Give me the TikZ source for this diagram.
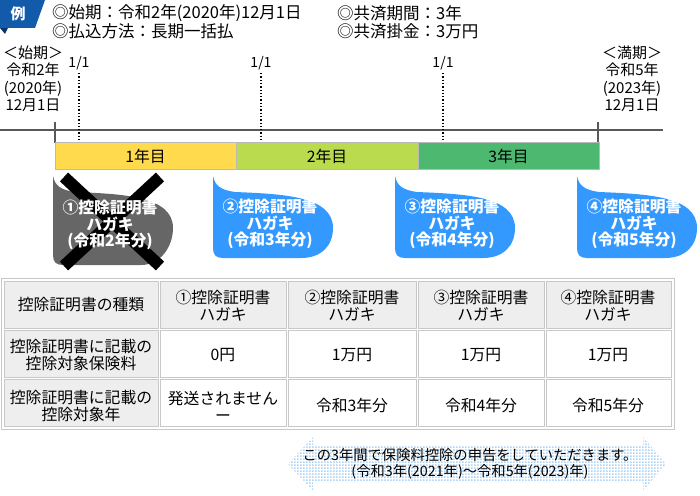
\documentclass[tikz,border=0pt]{standalone}
\usepackage{fontspec}
\setmainfont{Noto Sans CJK JP}
\usetikzlibrary{patterns.meta}

\definecolor{tagblue}{RGB}{18,90,170}
\definecolor{tagdark}{RGB}{10,52,110}
\definecolor{yearone}{RGB}{255,218,77}
\definecolor{yeartwo}{RGB}{187,219,79}
\definecolor{yearthree}{RGB}{77,184,112}
\definecolor{bubbleblue}{RGB}{51,153,255}
\definecolor{bubblegray}{RGB}{102,102,102}
\definecolor{cellgray}{RGB}{238,238,238}
\definecolor{cellline}{RGB}{200,200,200}
\definecolor{dotblue}{RGB}{175,212,245}

\tikzdeclarepattern{name=bluedots, type=uncolored,
  bottom left={(0pt,0pt)}, top right={(3pt,3pt)}, tile size={(3pt,3pt)},
  code={\fill (0pt,0pt) rectangle (2pt,2pt);}}

\tikzset{
  txt/.style={inner sep=0pt, align=center, font=\fontsize{15.8}{17}\selectfont},
  headtxt/.style={inner sep=0pt, anchor=west, font=\fontsize{16.5}{18}\selectfont},
  bubbletxt/.style={txt, text=white, font=\fontsize{15.8}{16.8}\selectfont\bfseries},
  yearbar/.style={draw=gray!55, line width=1pt},
  tablecell/.style={draw=cellline, line width=0.9pt},
}

% callout with its tip at the top left
\newcommand{\hagakibubble}[3]{%
  \begin{scope}[shift={(#1,176)}]
    \fill[#3] (0,0) .. controls (2,10) and (8,14) .. (22,16)
      .. controls (70,18) and (120,20) .. (120,52)
      .. controls (120,70) and (108,#2) .. (88,#2) -- (10,#2)
      .. controls (3,#2) and (0,#2-3) .. (0,#2-10) -- cycle;
  \end{scope}}

\begin{document}
\begin{tikzpicture}[x=1pt,y=-1pt]
  \useasboundingbox (0,0) rectangle (700,495);

  % tag and header
  \fill[tagdark] (0,28) -- (8,28) -- (5,34) -- cycle;
  \fill[tagblue] (0,0) -- (45,0) -- (35,28) -- (0,28) -- cycle;
  \node[txt, text=white, font=\fontsize{15}{16}\selectfont\bfseries] (tag) at (18,14) {例};
  \node[headtxt] (start) at (52,13) {◎始期：令和2年(2020年)12月1日};
  \node[headtxt] (pay) at (52,31) {◎払込方法：長期一括払};
  \node[headtxt] (term) at (337,13) {◎共済期間：3年};
  \node[headtxt] (fee) at (337,31) {◎共済掛金：3万円};

  % timeline
  \node[txt, font=\fontsize{15}{17.5}\selectfont] (begin) at (33,79) {＜始期＞\\令和2年\\(2020年)\\12月1日};
  \node[txt, font=\fontsize{15}{17.5}\selectfont] (end) at (632,79) {＜満期＞\\令和5年\\(2023年)\\12月1日};
  \coordinate (axisL) at (0,130);
  \coordinate (axisR) at (663,130);
  \draw[line width=1.3pt, gray!70!black] (axisL) -- (axisR);
  \draw[line width=1.3pt, gray!70!black] (55,122) coordinate (tickA) -- (55,143);
  \draw[line width=1.3pt, gray!70!black] (598,122) coordinate (tickB) -- (598,143);
  \foreach \x [count=\n] in {79,261,443} {
    \node[txt, font=\fontsize{14}{15}\selectfont] (jan\n) at (\x,63) {1/1};
    \coordinate (dotB\n) at (\x,142);
    \draw[line width=1.3pt, dotted] (jan\n.south) ++(0,3) -- (dotB\n);
  }
  \foreach \a/\b/\c/\n in {55/236/yearone/1, 236/418/yeartwo/2, 418/599/yearthree/3} {
    \draw[yearbar, fill=\c] (\a,142) rectangle (\b,169);
    \node[txt] (year\n) at ({(\a+\b)/2},156) {{\n}年目};
  }

  % certificates
  \hagakibubble{53}{89}{bubblegray}
  \hagakibubble{213}{82}{bubbleblue}
  \hagakibubble{395}{82}{bubbleblue}
  \hagakibubble{577}{82}{bubbleblue}
  \coordinate (crossA) at (64,177);
  \coordinate (crossB) at (160,266);
  \coordinate (crossC) at (160,177);
  \coordinate (crossD) at (64,266);
  \draw[line width=12pt, black] (crossA) -- (crossB);
  \draw[line width=12pt, black] (crossC) -- (crossD);
  \node[bubbletxt] (card1) at (110,225) {①控除証明書\\ハガキ\\(令和2年分)};
  \node[bubbletxt] (card2) at (270,224) {②控除証明書\\ハガキ\\(令和3年分)};
  \node[bubbletxt] (card3) at (452,224) {③控除証明書\\ハガキ\\(令和4年分)};
  \node[bubbletxt] (card4) at (634,224) {④控除証明書\\ハガキ\\(令和5年分)};

  % table
  \draw[cellline, line width=0.9pt] (1,278) rectangle (674,429);
  \foreach \xa/\xb [count=\i] in {3/159,159/287,287/417,417/545,545/672}
    \foreach \ya/\yb [count=\j] in {280/329,329/378,378/427} {
      \ifnum\i=1 \def\cf{cellgray}\else\ifnum\j=1 \def\cf{cellgray}\else\def\cf{white}\fi\fi
      \draw[tablecell, fill=\cf] (\xa+1,\ya+1) rectangle (\xb-1,\yb-1);
    }
  \node[txt] (kind) at (81,305) {控除証明書の種類};
  \node[txt] (amount) at (81,355) {控除証明書に記載の\\控除対象保険料};
  \node[txt] (target) at (81,406) {控除証明書に記載の\\控除対象年};
  \node[txt] (h1) at (223,306) {①控除証明書\\ハガキ};
  \node[txt] (h2) at (352,306) {②控除証明書\\ハガキ};
  \node[txt] (h3) at (481,306) {③控除証明書\\ハガキ};
  \node[txt] (h4) at (608,306) {④控除証明書\\ハガキ};
  \node[txt] (a1) at (223,355) {0円};
  \node[txt] (a2) at (352,355) {1万円};
  \node[txt] (a3) at (481,355) {1万円};
  \node[txt] (a4) at (608,355) {1万円};
  \node[txt] (t1) at (223,406) {発送されません\\ー};
  \node[txt] (t2) at (352,405) {令和3年分};
  \node[txt] (t3) at (481,405) {令和4年分};
  \node[txt] (t4) at (608,405) {令和5年分};

  % period arrow
  \fill[pattern=bluedots, pattern color=dotblue] (288,464) -- (313,437) -- (313,446) -- (643,446)
    -- (643,437) -- (666,464) -- (643,491) -- (643,482) -- (313,482) -- (313,491) -- cycle;
  \node[txt, font=\fontsize{14.3}{16.5}\selectfont] (period) at (470,464)
    {この3年間で保険料控除の申告をしていただきます。\\(令和3年(2021年)～令和5年(2023)年)};
\end{tikzpicture}
\end{document}
